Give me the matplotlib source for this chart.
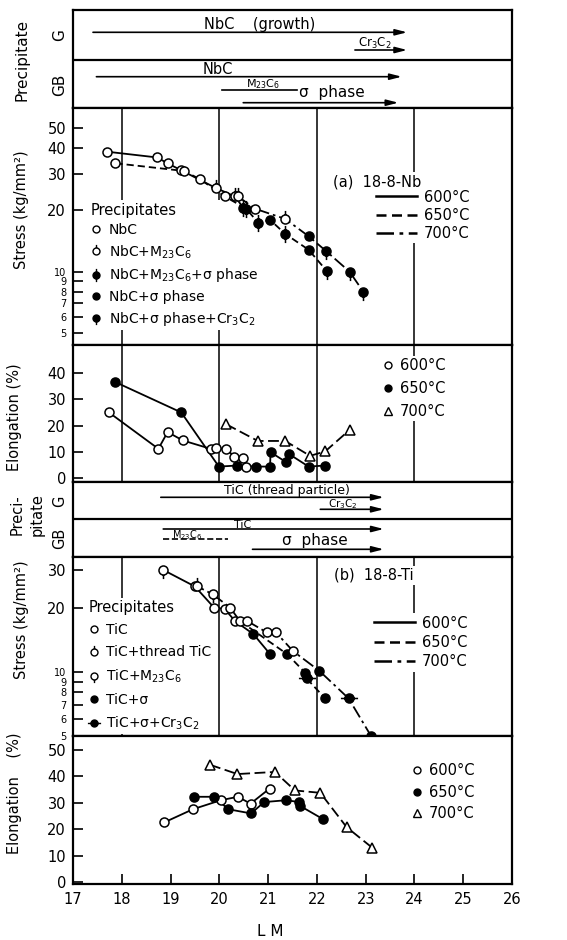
import matplotlib
matplotlib.use('Agg')
import matplotlib.pyplot as plt
from matplotlib.path import Path
from matplotlib.lines import Line2D
from matplotlib.ticker import NullFormatter

plt.rcParams['font.family'] = ['DejaVu Sans']
plt.rcParams['mathtext.default'] = 'regular'

# ------------------------------------------------------------------ data
lm_ticks = [17, 18, 19, 20, 21, 22, 23, 24, 25, 26]
lm_grid = [18, 20, 22, 24]
temps = ['600°C', '650°C', '700°C']

# (a) 18-8-Nb : precipitate ranges (LM)
a_g_names = ['NbC    (growth)', 'Cr$_3$C$_2$']
a_g_start = [17.41, 22.78]
a_g_end = [23.85, 23.85]
a_gb_names = ['NbC', 'M$_{23}$C$_6$', 'σ  phase']
a_gb_start = [17.48, 20.05, 20.49]
a_gb_end = [23.74, 21.60, 23.67]

# (a) stress, kg/mm2 ; precipitate code per point
a600_lm = [17.70, 18.72, 18.94, 19.21, 19.93, 20.32, 20.49]
a600_s = [38.5, 36.1, 33.8, 31.3, 25.6, 23.3, 20.5]
a600_p = ['o', 'o', 'o', 'o', 'ot', 'ot', 'ftb']
a650_lm = [17.87, 19.28, 19.61, 20.11, 20.55, 20.80, 21.04, 21.35, 21.83, 22.20]
a650_s = [33.8, 31.0, 28.2, 23.3, 20.3, 17.3, 17.9, 15.3, 12.8, 10.1]
a650_p = ['o', 'o', 'o', 'o', 'ftb', 'ftb', 'f', 'ftb', 'f', 'fb']
a700_lm = [20.38, 20.73, 21.35, 21.83, 22.19, 22.67, 22.95]
a700_s = [23.3, 20.3, 18.1, 14.9, 12.6, 10.0, 8.0]
a700_p = ['ot', 'o', 'ot', 'f', 'fb', 'fb', 'fb']

# (a) elongation, %
ea600_lm = [17.73, 18.75, 18.94, 19.25, 19.82, 19.94, 20.14, 20.31, 20.49, 20.54]
ea600_e = [25.1, 11.1, 17.5, 14.3, 11.1, 11.3, 11.0, 8.1, 7.5, 4.3]
ea650_lm = [17.87, 19.22, 19.99, 20.37, 20.75, 21.04, 21.05, 21.37, 21.42, 21.83, 22.17]
ea650_e = [36.6, 25.0, 4.3, 4.7, 4.3, 4.3, 9.8, 6.0, 9.2, 4.3, 4.7]
ea700_lm = [20.14, 20.79, 21.35, 21.86, 22.17, 22.67]
ea700_e = [20.5, 14.1, 14.1, 8.4, 10.1, 18.3]

# (b) 18-8-Ti : precipitate ranges (LM)
b_g_names = ['TiC (thread particle)', 'Cr$_3$C$_2$']
b_g_start = [18.80, 22.07]
b_g_end = [23.37, 23.37]
b_gb_names = ['TiC', 'M$_{23}$C$_6$', 'σ  phase']
b_gb_start = [18.85, 18.85, 20.68]
b_gb_end = [23.37, 20.18, 23.37]

# (b) stress
b600_lm = [18.85, 19.50, 19.89, 20.11, 20.32, 20.70, 21.04]
b600_s = [30.0, 25.1, 20.0, 19.7, 17.3, 15.0, 12.1]
b600_p = ['ob', 'o', 'o', 'o', 'o', 'f', 'f']
b650_lm = [19.55, 19.86, 20.22, 20.42, 21.39, 21.76, 21.79, 22.17]
b650_s = [25.1, 23.1, 20.0, 17.3, 12.1, 9.9, 9.3, 7.5]
b650_p = ['ot', 'ob', 'o', 'o', 'f', 'f', 'fh', 'f']
b700_lm = [20.57, 20.97, 21.16, 21.51, 22.05, 22.65, 23.11]
b700_s = [17.3, 15.3, 15.3, 12.5, 10.1, 7.5, 5.0]
b700_p = ['o', 'o', 'o', 'o', 'f', 'fh', 'fh']

# (b) elongation
eb600_lm = [18.87, 19.46, 20.03, 20.38, 20.64, 21.03]
eb600_e = [22.6, 27.6, 31.0, 32.3, 29.7, 35.4]
eb650_lm = [19.48, 19.90, 20.18, 20.65, 20.92, 21.37, 21.64, 21.66, 22.12]
eb650_e = [32.3, 32.3, 27.6, 26.0, 30.3, 31.0, 30.3, 28.8, 23.9]
eb700_lm = [19.81, 20.37, 21.14, 21.55, 22.07, 22.61, 23.13]
eb700_e = [44.4, 40.9, 41.7, 34.7, 33.8, 20.8, 13.1]

a_prec_codes = ['o', 'ot', 'ftb', 'f', 'fb']
a_prec_labels = ['NbC', 'NbC+M$_{23}$C$_6$', 'NbC+M$_{23}$C$_6$+σ phase',
                 'NbC+σ phase', 'NbC+σ phase+Cr$_3$C$_2$']
b_prec_codes = ['o', 'ot', 'ob', 'f', 'fh']
b_prec_labels = ['TiC', 'TiC+thread TiC', 'TiC+M$_{23}$C$_6$', 'TiC+σ',
                 'TiC+σ+Cr$_3$C$_2$']

# ------------------------------------------------------------------ helpers
STEMS = {'': [], 't': [(0, 1)], 'b': [(0, -1)], 'tb': [(0, 1), (0, -1)],
         'h': [(1, 0), (-1, 0)]}


def mstyle(code):
    filled = code[0] == 'f'
    stems = STEMS[code[1:]]
    if not stems:
        return 'o', filled, 1.0
    parts = [Path.unit_circle()]
    for dx, dy in stems:
        parts.append(Path([(dx, dy), (1.9 * dx, 1.9 * dy)], [Path.MOVETO, Path.LINETO]))
    return Path.make_compound_path(*parts), filled, 1.9


def series(ax, xs, ys, codes, ls, dashes=None, ms=6.5):
    ln, = ax.plot(xs, ys, color='k', lw=1.3, ls=ls, zorder=8)
    if dashes:
        ln.set_dashes(dashes)
    for code in dict.fromkeys(codes):
        px = [x for x, c in zip(xs, codes) if c == code]
        py = [y for y, c in zip(ys, codes) if c == code]
        m, filled, fac = mstyle(code)
        ax.plot(px, py, ls='none', marker=m, ms=ms * fac, mfc='k' if filled else 'w',
                mec='k', mew=1.1, zorder=9)


def simple_series(ax, xs, ys, marker, filled, ls, dashes=None, ms=6.5):
    ln, = ax.plot(xs, ys, color='k', lw=1.3, ls=ls, zorder=8)
    if dashes:
        ln.set_dashes(dashes)
    ax.plot(xs, ys, ls='none', marker=marker, ms=ms, mfc='k' if filled else 'w',
            mec='k', mew=1.1, zorder=9)


def base(ax):
    ax.set_xlim(17, 26)
    for s in ax.spines.values():
        s.set_linewidth(1.6)
        s.set_zorder(10)
    ax.set_xticks([])
    ax.set_xticks(lm_grid, minor=True)
    ax.tick_params(which='minor', length=0, labelbottom=False)
    ax.grid(which='minor', axis='x', color='k', lw=1.1)
    ax.set_axisbelow(True)


def white_legend(ax, **kw):
    leg = ax.legend(frameon=True, fancybox=False, edgecolor='none', facecolor='white',
                    framealpha=1, borderaxespad=0, **kw)
    leg.set_zorder(6)
    return leg


def prec_panel(ax, height, rows, divider, texts):
    ax.set_xlim(17, 26)
    ax.set_ylim(0, height)
    ax.set_xticks([])
    ax.set_yticks([])
    for s in ax.spines.values():
        s.set_linewidth(1.6)
    ax.axhline(divider, color='k', lw=1.6)
    for (x0, x1, y, head, style) in rows:
        if head:
            ax.annotate('', xy=(x1, y), xytext=(x0, y),
                        arrowprops=dict(arrowstyle='-|>,head_length=0.7,head_width=0.18',
                                        lw=1.2, color='k', shrinkA=0, shrinkB=0,
                                        linestyle=style))
        else:
            ax.plot([x0, x1], [y, y], color='k', lw=1.2, ls=style)
    for (x, y, t, fs) in texts:
        ax.text(x, y, t, ha='center', va='center', fontsize=fs)


# ------------------------------------------------------------------ figure
fig = plt.figure(figsize=(5.67, 9.40), dpi=100)
gs = fig.add_gridspec(6, 1, height_ratios=[98, 237, 137, 75, 179, 148], hspace=0,
                      left=73 / 567, right=512 / 567, top=1 - 10 / 940, bottom=1 - 884 / 940)
axp1 = fig.add_subplot(gs[0])
axsa = fig.add_subplot(gs[1])
axea = fig.add_subplot(gs[2])
axp2 = fig.add_subplot(gs[3])
axsb = fig.add_subplot(gs[4])
axeb = fig.add_subplot(gs[5])

# precipitate panel (a)
rows_a = [(a_g_start[0], a_g_end[0], 75.7, True, '-'),
          (a_g_start[1], a_g_end[1], 58.0, True, '-'),
          (a_gb_start[0], a_gb_end[0], 31.3, True, '-'),
          (a_gb_start[1], a_gb_end[1], 18.0, False, '-'),
          (a_gb_start[2], a_gb_end[2], 5.3, True, '-')]
texts_a = [(20.83, 83.5, a_g_names[0], 10.5), (23.19, 64.5, a_g_names[1], 8.5),
           (19.97, 38.5, a_gb_names[0], 10.5), (20.9, 23.5, a_gb_names[1], 8),
           (22.3, 16.0, a_gb_names[2], 11)]
prec_panel(axp1, 98, rows_a, 48, texts_a)

# precipitate panel (b)
rows_b = [(b_g_start[0], b_g_end[0], 59.7, True, '-'),
          (b_g_start[1], b_g_end[1], 47.7, True, '-'),
          (b_gb_start[0], b_gb_end[0], 28.0, True, '-'),
          (b_gb_start[1], b_gb_end[1], 18.0, False, '--'),
          (b_gb_start[2], b_gb_end[2], 7.7, True, '-')]
texts_b = [(21.39, 66.5, b_g_names[0], 9), (22.53, 53.0, b_g_names[1], 7.5),
           (20.48, 32.5, b_gb_names[0], 8), (19.35, 22.0, b_gb_names[1], 7),
           (21.96, 17.0, b_gb_names[2], 11)]
prec_panel(axp2, 75, rows_b, 37.7, texts_b)


def stress_axis(ax, ylim, ticks, big, grid):
    base(ax)
    ax.set_yscale('log')
    ax.set_ylim(*ylim)
    ax.set_yticks(ticks)
    ax.set_yticklabels([str(t) for t in ticks])
    ax.set_yticks(grid, minor=True)
    ax.yaxis.set_minor_formatter(NullFormatter())
    ax.tick_params(axis='y', which='major', direction='in', length=7, width=1.2, pad=5)
    for lab, t in zip(ax.get_yticklabels(), ticks):
        lab.set_fontsize(10.5 if t in big else 7)
    ax.grid(which='minor', axis='y', color='k', lw=1.1)


def elong_axis(ax, ylim, ticks, grid):
    base(ax)
    ax.set_ylim(*ylim)
    ax.set_yticks(ticks)
    ax.set_yticks(grid, minor=True)
    ax.tick_params(axis='y', which='major', direction='in', length=7, width=1.2, pad=5,
                   labelsize=10.5)
    ax.grid(which='minor', axis='y', color='k', lw=1.1)


DASH = (4, 2.2)
DASHDOT = (7, 2.2, 1.5, 2.2)


def prec_handles(codes):
    hs = []
    for c in codes:
        m, filled, fac = mstyle(c)
        hs.append(Line2D([], [], ls='none', marker=m, ms=5 * fac,
                         mfc='k' if filled else 'w', mec='k', mew=1.0))
    return hs


def line_handles():
    hs = []
    for ls, d in [('-', None), ('--', DASH), ('-.', DASHDOT)]:
        h = Line2D([], [], color='k', lw=1.8, ls=ls)
        if d:
            h.set_dashes(d)
        hs.append(h)
    return hs


def elong_handles():
    return [Line2D([], [], ls='none', marker='o', ms=5, mfc='w', mec='k', mew=1.0),
            Line2D([], [], ls='none', marker='o', ms=5, mfc='k', mec='k', mew=1.0),
            Line2D([], [], ls='none', marker='^', ms=5.5, mfc='w', mec='k', mew=1.0)]


# stress (a)
stress_axis(axsa, (4.39, 62.9), [5, 6, 7, 8, 9, 10, 20, 30, 40, 50], [20, 30, 40, 50],
            [6, 8, 10, 20, 40])
series(axsa, a600_lm, a600_s, a600_p, '-')
series(axsa, a650_lm, a650_s, a650_p, '--', DASH)
series(axsa, a700_lm, a700_s, a700_p, '-.', DASHDOT)
white_legend(axsa, handles=line_handles(), labels=temps, loc='upper left',
             bbox_to_anchor=(0.685, 0.665), fontsize=10.5, handlelength=2.8,
             handletextpad=0.5, labelspacing=0.22, borderpad=0.15)
axsa.add_artist(axsa.get_legend())
white_legend(axsa, handles=prec_handles(a_prec_codes), labels=a_prec_labels,
             title='Precipitates', loc='upper left', bbox_to_anchor=(0.035, 0.61),
             fontsize=10, title_fontsize=10.5, alignment='left', handlelength=0.8,
             handletextpad=0.5, labelspacing=0.42, borderpad=0.15)
axsa.text(0.692, 0.689, '(a)  18-8-Nb', transform=axsa.transAxes, ha='center',
          va='center', fontsize=10.5, zorder=6,
          bbox=dict(fc='white', ec='none', pad=1.5))

# elongation (a)
elong_axis(axea, (-1.6, 50.8), [0, 10, 20, 30, 40], [20, 40])
simple_series(axea, ea600_lm, ea600_e, 'o', False, '-')
simple_series(axea, ea650_lm, ea650_e, 'o', True, '-')
simple_series(axea, ea700_lm, ea700_e, '^', False, '--', (6, 2.5))
white_legend(axea, handles=elong_handles(), labels=temps, loc='upper left',
             bbox_to_anchor=(0.70, 0.92), fontsize=10.5, handlelength=0.8,
             handletextpad=0.4, labelspacing=0.55, borderpad=0.15)

# stress (b)
stress_axis(axsb, (5.0, 34.5), [5, 6, 7, 8, 9, 10, 20, 30], [20, 30], [6, 8, 10, 20])
series(axsb, b600_lm, b600_s, b600_p, '-')
series(axsb, b650_lm, b650_s, b650_p, '--', DASH)
series(axsb, b700_lm, b700_s, b700_p, '-.', DASHDOT)
white_legend(axsb, handles=line_handles(), labels=temps, loc='upper left',
             bbox_to_anchor=(0.68, 0.685), fontsize=10.5, handlelength=2.8,
             handletextpad=0.5, labelspacing=0.3, borderpad=0.15)
axsb.add_artist(axsb.get_legend())
white_legend(axsb, handles=prec_handles(b_prec_codes), labels=b_prec_labels,
             title='Precipitates', loc='upper left', bbox_to_anchor=(0.03, 0.77),
             fontsize=10, title_fontsize=10.5, alignment='left', handlelength=0.8,
             handletextpad=0.5, labelspacing=0.58, borderpad=0.15)
axsb.text(0.686, 0.899, '(b)  18-8-Ti', transform=axsb.transAxes, ha='center',
          va='center', fontsize=10.5, zorder=6,
          bbox=dict(fc='white', ec='none', pad=1.5))

# elongation (b)
elong_axis(axeb, (-0.7, 55.3), [0, 10, 20, 30, 40, 50], [20, 40])
simple_series(axeb, eb600_lm, eb600_e, 'o', False, '-')
simple_series(axeb, eb650_lm, eb650_e, 'o', True, '-')
simple_series(axeb, eb700_lm, eb700_e, '^', False, '--', (6, 2.5))
white_legend(axeb, handles=elong_handles(), labels=temps, loc='upper left',
             bbox_to_anchor=(0.765, 0.83), fontsize=10.5, handlelength=0.8,
             handletextpad=0.4, labelspacing=0.45, borderpad=0.15)

# bottom x axis
axeb.set_xticks(lm_ticks)
axeb.set_xticklabels([str(t) for t in lm_ticks])
axeb.tick_params(axis='x', which='major', direction='in', length=7, width=1.2,
                 labelbottom=True, labelsize=10.5, pad=6)

# axis titles
fw, fh = 567.0, 940.0


def ftext(x, y, s, fs=10.5, rot=90, **kw):
    fig.text(x / fw, 1 - y / fh, s, rotation=rot, ha='center', va='center', fontsize=fs, **kw)


ftext(22, 60, 'Precipitate', 11)
ftext(60, 35, 'G', 11)
ftext(60, 85, 'GB', 11)
ftext(22, 210, 'Stress (kg/mm²)', 10.5)
ftext(15, 417, 'Elongation (%)', 10.5)
ftext(27, 515, 'Preci-\npitate', 10.5, linespacing=1.4)
ftext(60, 501, 'G', 10.5)
ftext(60, 538, 'GB', 10.5)
ftext(22, 620, 'Stress (kg/mm²)', 10.5)
ftext(15, 793, 'Elongation    (%)', 10.5)
ftext(270, 931, 'L M', 11, rot=0)

fig.savefig('out.png', dpi=100)
